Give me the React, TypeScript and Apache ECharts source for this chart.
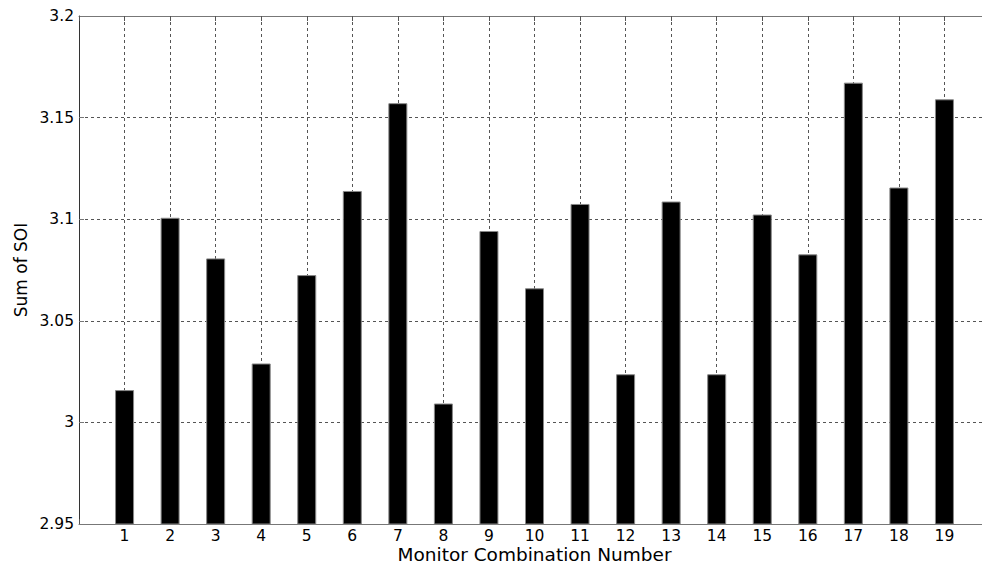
import React, { useEffect, useRef } from "react";
import * as echarts from "echarts";

const combinations = [1, 2, 3, 4, 5, 6, 7, 8, 9, 10, 11, 12, 13, 14, 15, 16, 17, 18, 19];
const soiSums = [
  3.0159, 3.1007, 3.0807, 3.029, 3.0725, 3.1139, 3.1571, 3.0093, 3.0942, 3.066,
  3.1075, 3.0237, 3.1087, 3.0237, 3.1023, 3.0827, 3.1672, 3.1156, 3.159,
];
const yTicks = { min: 2.95, max: 3.2, step: 0.05 };
const xRange = { min: 0, max: 20 };

export default function App() {
  const ref = useRef<HTMLDivElement>(null);
  useEffect(() => {
    if (!ref.current) return;
    const chart = echarts.init(ref.current, null, { renderer: "svg" });
    const font = "'DejaVu Sans', sans-serif";
    const grid = "#555";
    chart.setOption({
      animation: false,
      backgroundColor: "#fff",
      grid: {
        left: 79,
        top: 16,
        width: 911,
        height: 508,
        containLabel: false,
        outerBoundsMode: "none",
      },
      xAxis: [
        {
          type: "value",
          min: xRange.min,
          max: xRange.max,
          interval: 1,
          position: "bottom",
          name: "Monitor Combination Number",
          nameLocation: "middle",
          nameGap: 21,
          nameMoveOverlap: false,
          nameTextStyle: { fontFamily: font, fontSize: 18.5, color: "#000", lineHeight: 19 },
          axisLine: { show: true, lineStyle: { color: "#777", width: 1 } },
          axisTick: { show: true, inside: true, length: 5, lineStyle: { color: "#555" } },
          axisLabel: {
            margin: 4,
            fontFamily: font,
            fontSize: 15.5,
            lineHeight: 16,
            color: "#000",
            formatter: (v: number) => (v >= 1 && v <= 19 ? String(v) : ""),
          },
          splitLine: { show: true, lineStyle: { color: grid, type: [3, 3], width: 1 } },
        },
        {
          type: "value",
          min: xRange.min,
          max: xRange.max,
          interval: 1,
          position: "top",
          axisLine: { show: true, lineStyle: { color: "#777", width: 1 } },
          axisTick: { show: true, inside: true, length: 5, lineStyle: { color: "#555" } },
          axisLabel: { show: false },
          splitLine: { show: false },
        },
      ],
      yAxis: {
        type: "value",
        min: yTicks.min,
        max: yTicks.max,
        interval: yTicks.step,
        name: "Sum of SOI",
        nameLocation: "middle",
        nameGap: 50,
        nameMoveOverlap: false,
        nameTextStyle: { fontFamily: font, fontSize: 17, color: "#000" },
        axisLine: { show: true, lineStyle: { color: "#333", width: 1 } },
        axisTick: { show: true, inside: true, length: 5, lineStyle: { color: "#777" } },
        axisLabel: {
          margin: 5,
          fontFamily: font,
          fontSize: 15.5,
          color: "#000",
          formatter: (v: number) => String(+v.toFixed(2)),
        },
        splitLine: { show: true, lineStyle: { color: grid, type: [3, 3], width: 1 } },
      },
      series: [
        {
          type: "bar",
          xAxisIndex: 0,
          data: combinations.map((c, i) => [c, soiSums[i]]),
          barWidth: 19,
          itemStyle: { color: "#000", borderColor: "#888", borderWidth: 1 },
          z: 3,
        },
      ],
    });
    return () => chart.dispose();
  }, []);
  return (
    <div
      ref={ref}
      style={{ position: "fixed", left: 0, top: 0, width: 982, height: 567, background: "#fff" }}
    />
  );
}
